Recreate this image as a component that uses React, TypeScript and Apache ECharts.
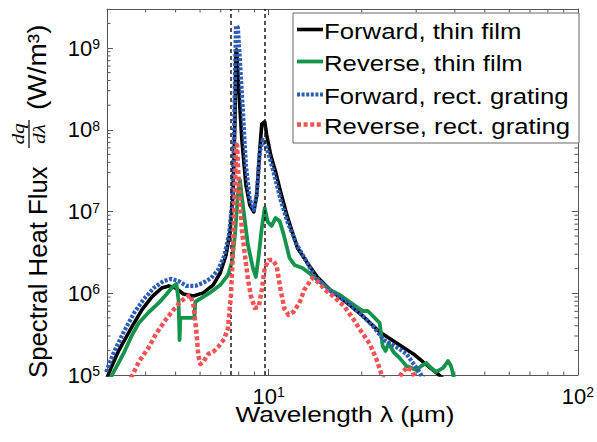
import React, { useEffect, useRef } from "react";
import * as echarts from "echarts";

// Spectral heat flux dq/dλ (W/m³) versus wavelength λ (µm), pairs of [λ, flux]
const forwardThinFilm: [number, number][] = [
  [3.0, 9.19e4], [3.09, 1.22e5], [3.28, 2.02e5], [3.61, 3.87e5], [3.89, 6.25e5],
  [4.19, 9.01e5], [4.51, 1.16e6], [4.75, 1.23e6], [5.0, 1.16e6], [5.3, 9.8e5],
  [5.71, 9.27e5], [6.14, 1.01e6], [6.61, 1.26e6], [6.97, 1.77e6], [7.28, 2.94e6],
  [7.5, 5.63e6], [7.67, 1.6e7], [7.78, 1.32e8], [7.84, 9.0e8], [7.88, 9.5e8],
  [7.97, 4.08e8], [8.19, 7.52e7], [8.44, 2.12e7], [8.69, 1.2e7], [8.95, 9.89e6],
  [9.15, 1.6e7], [9.36, 5.68e7], [9.5, 1.18e8], [9.71, 1.25e8], [9.85, 8.66e7],
  [10.15, 4.93e7], [10.53, 3.05e7], [10.93, 1.74e7], [11.5, 8.59e6], [12.39, 3.58e6],
  [13.34, 2.35e6], [14.36, 1.58e6], [15.8, 1.1e6], [17.92, 7.61e5], [20.31, 5.13e5],
  [22.86, 3.36e5], [25.91, 2.46e5], [29.38, 1.81e5], [31.62, 1.44e5], [35.59, 1.0e5],
  [37.48, 8.45e4],
];

const reverseThinFilm: [number, number][] = [
  [3.05, 8.69e4], [3.14, 1.06e5], [3.28, 1.44e5], [3.41, 1.91e5], [3.59, 2.92e5],
  [3.8, 4.33e5], [4.1, 5.9e5], [4.41, 7.61e5], [4.68, 9.8e5], [4.89, 1.2e6],
  [5.03, 1.3e6], [5.11, 8.28e5], [5.15, 2.68e5], [5.18, 4.99e5], [5.75, 4.99e5],
  [5.79, 7.83e5], [6.14, 9.01e5], [6.52, 1.04e6], [6.97, 1.26e6], [7.39, 1.68e6],
  [7.61, 2.42e6], [7.78, 5.17e6], [7.95, 1.6e7], [8.07, 2.44e7], [8.25, 1.2e7],
  [8.57, 3.9e6], [8.89, 2.04e6], [9.09, 1.58e6], [9.29, 2.94e6], [9.5, 6.3e6],
  [9.71, 1.11e7], [9.93, 7.46e6], [10.22, 6.66e6], [10.53, 8.35e6], [10.85, 7.67e6],
  [11.17, 5.32e6], [11.68, 2.7e6], [12.12, 2.22e6], [12.85, 2.04e6], [13.53, 1.77e6],
  [14.36, 1.46e6], [15.8, 1.1e6], [17.01, 9.53e5], [17.92, 8.28e5], [19.29, 6.8e5],
  [20.16, 6.07e5], [20.92, 6.07e5], [22.03, 4.99e5], [22.86, 4.33e5], [23.37, 2.26e5],
  [23.89, 1.97e5], [24.42, 2.46e5], [25.34, 1.91e5], [26.49, 1.62e5], [27.9, 1.29e5],
  [30.04, 1.15e5], [31.17, 1.29e5], [32.34, 1.4e5], [33.54, 1.22e5], [34.82, 1.09e5],
  [36.66, 1.22e5], [38.03, 1.48e5], [38.88, 1.29e5], [39.76, 9.19e4],
];

const forwardGrating: [number, number][] = [
  [2.98, 1.09e5], [3.16, 1.91e5], [3.41, 3.46e5], [3.67, 5.74e5], [3.95, 8.52e5],
  [4.25, 1.16e6], [4.57, 1.41e6], [4.85, 1.5e6], [5.11, 1.41e6], [5.42, 1.23e6],
  [5.79, 1.23e6], [6.14, 1.34e6], [6.52, 1.54e6], [6.86, 1.93e6], [7.18, 2.86e6],
  [7.44, 5.17e6], [7.61, 1.2e7], [7.72, 7.52e7], [7.78, 4.08e8], [7.84, 1.87e9],
  [7.95, 1.77e9], [8.07, 7.17e8], [8.25, 1.75e8], [8.44, 3.72e7], [8.69, 1.39e7],
  [8.95, 1.05e7], [9.15, 1.6e7], [9.36, 5.36e7], [9.57, 7.52e7], [9.78, 6.54e7],
  [10.07, 4.53e7], [10.45, 2.73e7], [10.93, 1.39e7], [11.5, 7.46e6], [12.39, 3.79e6],
  [13.34, 2.35e6], [14.04, 1.63e6], [15.8, 1.07e6], [17.92, 7.83e5], [20.31, 5.13e5],
  [21.87, 3.87e5], [23.54, 2.68e5], [25.91, 2.2e5], [27.9, 1.81e5], [30.71, 1.09e5],
  [31.86, 8.69e4],
];

const reverseGrating: [number, number][] = [
  [3.59, 9.19e4], [3.8, 1.44e5], [4.1, 2.2e5], [4.34, 3.27e5], [4.64, 4.71e5],
  [4.92, 6.25e5], [5.18, 7.83e5], [5.42, 9.01e5], [5.58, 9.53e5], [5.71, 7.19e5],
  [5.83, 3.55e5], [5.92, 1.76e5], [6.01, 1.36e5], [6.14, 1.44e5], [6.38, 1.81e5],
  [6.61, 1.91e5], [6.86, 2.2e5], [7.18, 2.76e5], [7.39, 3.76e5], [7.55, 9.53e5],
  [7.67, 3.39e6], [7.78, 2.12e7], [7.84, 5.68e7], [7.9, 6.54e7], [8.01, 2.12e7],
  [8.19, 5.95e6], [8.38, 2.94e6], [8.57, 1.46e6], [8.76, 9.27e5], [9.02, 6.61e5],
  [9.29, 6.8e5], [9.5, 1.1e6], [9.71, 2.04e6], [10.0, 2.56e6], [10.3, 2.56e6],
  [10.61, 2.16e6], [10.93, 1.1e6], [11.25, 6.43e5], [11.59, 5.43e5], [12.02, 5.9e5],
  [12.57, 7.61e5], [13.04, 1.1e6], [13.84, 1.54e6], [14.57, 1.34e6], [15.23, 1.1e6],
  [16.27, 9.01e5], [17.52, 6.99e5], [18.87, 4.71e5], [19.87, 3.46e5], [21.23, 2.4e5],
  [22.36, 1.53e5], [23.2, 1.0e5], [24.07, 7.54e4], [25.91, 8.21e4], [27.08, 1.09e5],
  [28.11, 1.25e5], [29.16, 1.12e5], [30.04, 8.21e4],
];

// Resonance wavelengths marked by dashed verticals (µm)
const resonanceLines = [7.55, 9.72];

const xRange = [3, 100];
const yRange = [1e5, 3e9];
const minorMultipliers = [2, 3, 4, 5, 6, 7, 8, 9];
const xDecades = [1, 10];
const yDecades = [1e5, 1e6, 1e7, 1e8, 1e9];

const legendLabels = [
  "Forward, thin film",
  "Reverse, thin film",
  "Forward, rect. grating",
  "Reverse, rect. grating",
];
const xAxisTitle = "Wavelength λ (µm)";
const yAxisTitle = "Spectral Heat Flux";
const yAxisUnit = "(W/m³)";

const FONT = '"Liberation Sans", Arial, Helvetica, sans-serif';
const SERIF = '"Liberation Serif", "DejaVu Serif", serif';
const AXIS_COLOR = "#555";

const seriesStyles = [
  { color: "#000000", width: 3.6, type: "solid" as any },
  { color: "#14944a", width: 3.8, type: "solid" as any },
  { color: "#2b5cb6", width: 4.2, type: [3, 1.6] as any },
  { color: "#f25252", width: 4.5, type: [4, 2.6] as any },
];

const xMinorTicks = xDecades
  .flatMap((d) => minorMultipliers.map((m) => m * d))
  .filter((v) => v > xRange[0] && v < xRange[1]);
const yMinorTicks = yDecades
  .flatMap((d) => minorMultipliers.map((m) => m * d))
  .filter((v) => v > yRange[0] && v < yRange[1]);

function powerLabel(v: number): string {
  const e = Math.log10(v);
  if (Math.abs(e - Math.round(e)) > 1e-6) return "";
  return `{b|10}{s|${Math.round(e)}}`;
}

const labelRich = {
  b: { fontSize: 22, fontFamily: FONT, color: "#000", lineHeight: 22, padding: [5, 0, 0, 0], verticalAlign: "bottom" },
  s: { fontSize: 14, fontFamily: FONT, color: "#000", lineHeight: 14, verticalAlign: "top" },
};

function logAxis(extra: any) {
  return {
    type: "log",
    logBase: 10,
    splitLine: { show: false },
    axisLine: { show: true, onZero: false, lineStyle: { color: AXIS_COLOR, width: 1 } },
    axisTick: { show: true, inside: true, length: 6, lineStyle: { color: AXIS_COLOR, width: 1 } },
    minorTick: { show: false },
    ...extra,
  };
}

function buildOption(): any {
  const data = [forwardThinFilm, reverseThinFilm, forwardGrating, reverseGrating];

  const lineSeries = data.map((d, i) => ({
    name: legendLabels[i],
    type: "line",
    data: d,
    showSymbol: false,
    symbol: "none",
    smooth: false,
    clip: true,
    z: 2 + i,
    lineStyle: {
      color: seriesStyles[i].color,
      width: seriesStyles[i].width,
      type: seriesStyles[i].type,
      join: "round",
      cap: i >= 2 ? "butt" : "round",
    },
    itemStyle: { color: seriesStyles[i].color },
    emphasis: { disabled: true },
    ...(i === 3
      ? {
          markLine: {
            silent: true,
            symbol: ["none", "none"],
            label: { show: false },
            lineStyle: { color: "#1a1a1a", width: 1.5, type: [4, 3] },
            emphasis: { disabled: true },
            data: resonanceLines.map((v) => ({ xAxis: v })),
          },
        }
      : {}),
  }));

  // Logarithmic minor ticks on all four sides of the frame
  const minorTickSeries = {
    type: "custom",
    silent: true,
    clip: false,
    z: 10,
    encode: { x: 0, y: 1 },
    data: [
      ...xMinorTicks.map((v) => [v, yRange[0], 0]),
      ...yMinorTicks.map((v) => [xRange[0], v, 1]),
    ],
    renderItem: (params: any, api: any) => {
      const cs = params.coordSys;
      const kind = api.value(2);
      const p = api.coord([api.value(0), api.value(1)]);
      const style = { stroke: AXIS_COLOR, lineWidth: 1 };
      const len = 3.5;
      if (kind === 0) {
        const bottom = cs.y + cs.height;
        return {
          type: "group",
          children: [
            { type: "line", shape: { x1: p[0], y1: bottom, x2: p[0], y2: bottom - len }, style },
            { type: "line", shape: { x1: p[0], y1: cs.y, x2: p[0], y2: cs.y + len }, style },
          ],
        };
      }
      const right = cs.x + cs.width;
      return {
        type: "group",
        children: [
          { type: "line", shape: { x1: cs.x, y1: p[1], x2: cs.x + len, y2: p[1] }, style },
          { type: "line", shape: { x1: right, y1: p[1], x2: right - len, y2: p[1] }, style },
        ],
      };
    },
  };

  // Boxed legend with line samples
  const legendRows = [31, 63, 96, 126];
  const legendElements: any[] = [
    {
      type: "rect",
      shape: { x: 293, y: 13, width: 286, height: 130 },
      style: { fill: "#fff", stroke: "#666", lineWidth: 1 },
      z: 100,
    },
  ];
  legendLabels.forEach((label, i) => {
    const y = legendRows[i];
    legendElements.push({
      type: "line",
      shape: { x1: 297, y1: y - 1.5, x2: 323, y2: y - 1.5 },
      style: {
        stroke: seriesStyles[i].color,
        lineWidth: seriesStyles[i].width,
        lineDash: Array.isArray(seriesStyles[i].type) ? seriesStyles[i].type : null,
        lineCap: "butt",
      },
      z: 101,
    });
    legendElements.push({
      type: "text",
      x: 324,
      y,
      scaleX: 1.17,
      z: 101,
      style: {
        text: label,
        fontSize: 22,
        fontFamily: FONT,
        fill: "#000",
        textAlign: "left",
        textVerticalAlign: "middle",
      },
    });
  });

  const xTitle = {
    type: "text",
    x: 345,
    y: 414.5,
    scaleX: 1.19,
    z: 100,
    style: {
      text: xAxisTitle,
      fontSize: 22,
      fontFamily: FONT,
      fill: "#000",
      textAlign: "center",
      textVerticalAlign: "middle",
    },
  };

  // Vertical title with the dq/dλ fraction, reading bottom to top
  const yTitle = {
    type: "group",
    x: 38,
    y: 378,
    rotation: Math.PI / 2,
    z: 100,
    children: [
      {
        type: "text",
        x: 0,
        y: 0,
        scaleX: 1.03,
        style: {
          text: yAxisTitle,
          fontSize: 25,
          fontFamily: FONT,
          fill: "#000",
          textAlign: "left",
          textVerticalAlign: "middle",
        },
      },
      {
        type: "text",
        x: 244,
        y: -19.5,
        scaleX: 1.25,
        style: {
          text: "dq",
          fontSize: 17,
          fontStyle: "italic",
          fontFamily: SERIF,
          fill: "#000",
          textAlign: "center",
          textVerticalAlign: "middle",
        },
      },
      {
        type: "line",
        shape: { x1: 230, y1: -9, x2: 258, y2: -9 },
        style: { stroke: "#000", lineWidth: 1.2 },
      },
      {
        type: "text",
        x: 244,
        y: 1.5,
        scaleX: 1.25,
        style: {
          text: "dλ",
          fontSize: 17,
          fontStyle: "italic",
          fontFamily: SERIF,
          fill: "#000",
          textAlign: "center",
          textVerticalAlign: "middle",
        },
      },
      {
        type: "text",
        x: 268,
        y: 0,
        scaleX: 1.12,
        style: {
          text: yAxisUnit,
          fontSize: 25,
          fontFamily: FONT,
          fill: "#000",
          textAlign: "left",
          textVerticalAlign: "middle",
        },
      },
    ],
  };

  return {
    animation: false,
    backgroundColor: "#ffffff",
    grid: { left: 107, right: 14, top: 9, bottom: 67, containLabel: false },
    xAxis: [
      logAxis({
        min: xRange[0],
        max: xRange[1],
        position: "bottom",
        axisLabel: { show: true, margin: 10, formatter: powerLabel, rich: labelRich },
      }),
      logAxis({
        min: xRange[0],
        max: xRange[1],
        position: "top",
        axisLabel: { show: false },
      }),
    ],
    yAxis: [
      logAxis({
        min: yRange[0],
        max: yRange[1],
        position: "left",
        axisLabel: { show: true, margin: 7, formatter: powerLabel, rich: labelRich },
      }),
      logAxis({
        min: yRange[0],
        max: yRange[1],
        position: "right",
        axisLabel: { show: false },
      }),
    ],
    series: [...lineSeries, minorTickSeries],
    graphic: { elements: [...legendElements, xTitle, yTitle] },
  };
}

export default function App() {
  const ref = useRef<HTMLDivElement | null>(null);

  useEffect(() => {
    if (!ref.current) return;
    const chart = echarts.init(ref.current, undefined, { renderer: "svg" });
    chart.setOption(buildOption());
    return () => chart.dispose();
  }, []);

  return (
    <div
      ref={ref}
      style={{ position: "fixed", left: 0, top: 0, width: 597, height: 442, background: "#fff" }}
    />
  );
}
